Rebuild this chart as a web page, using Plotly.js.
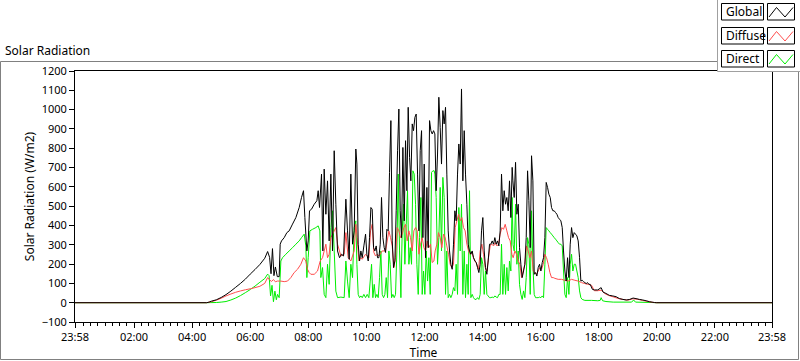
<!DOCTYPE html>
<html><head><meta charset="utf-8">
<script src="https://cdn.plot.ly/plotly-3.0.1.min.js"></script>
<style>html,body{margin:0;padding:0;background:#fff;} #chart{width:800px;height:361px;}</style>
</head><body><div id="chart"></div>
<script>
// time in minutes after midnight, value in W/m2
const tickMinutes = [-2,120,240,360,480,600,720,840,960,1080,1200,1320,1438];
const tickLabels = ["23:58","02:00","04:00","06:00","08:00","10:00","12:00","14:00","16:00","18:00","20:00","22:00","23:58"];
const seriesNames = ["Global","Diffuse","Direct"];

const globalSeries = [[-2,0],[270,0],[275,3],[280,8],[290,15],[300,27],[310,42],[320,60],[330,80],[340,100],[350,122],[360,148],[370,172],[380,198],[390,230],[396,265],[400,235],[403,150],[406,280],[409,140],[412,185],[416,135],[419.8,135],[421.9,303],[424.7,320],[430.2,337],[435.7,363],[440.5,372],[447.4,407],[454.3,441],[461.2,493],[466,545],[470.1,580],[472.9,441],[477,268],[479.8,320],[482.5,476],[486.6,484],[492.2,510],[497.7,528],[500.4,580],[503.2,493],[507.3,666],[510.1,268],[512.8,692],[516.3,458],[519.7,631],[523.1,320],[526.6,666],[530,268],[533.5,787],[536.9,510],[540.4,268],[544.5,233],[548.6,251],[552.8,242],[557.6,536],[561,372],[564.5,225],[567.9,666],[571.4,303],[574.8,372],[578.2,796],[580.4,718],[583.1,303],[585.9,216],[588.6,268],[591.4,233],[594.8,294],[598.3,355],[601,251],[603.8,216],[606.5,337],[609.3,493],[612,484],[614.8,285],[617.5,268],[620.3,294],[623,233],[625.8,233],[628.6,303],[631.3,545],[634.1,337],[636.8,285],[639.6,260],[642.3,380],[645.1,372],[647.8,675],[650.6,943],[653.4,320],[656.1,182],[658.9,216],[661.6,476],[664.4,787],[667.1,1003],[669.9,476],[672.6,337],[675.4,804],[678.2,424],[680.9,839],[683.7,580],[686.4,1012],[689.2,753],[691.9,631],[694.7,926],[697.4,891],[700.2,960],[702.9,977],[705.7,666],[708.5,372],[711.2,787],[714,891],[716.7,337],[719.5,718],[722.2,233],[725,597],[727.7,285],[730.5,943],[733.2,891],[736,874],[738.8,891],[741.5,874],[744.2,580],[747,770],[749.7,1064],[752.5,908],[755.2,718],[758,995],[760.7,926],[763.5,1012],[766.2,666],[769,372],[771.8,268],[774.5,199],[777.3,173],[780,303],[782.8,476],[785.5,424],[788.3,666],[791,822],[793.8,718],[796.5,1107],[799.3,631],[802.1,891],[804.8,666],[807.6,510],[810.3,303],[813.1,268],[815.8,251],[818.6,268],[821.3,233],[824.1,216],[826.9,208],[829.6,182],[832.4,156],[835.1,199],[837.9,372],[840.6,441],[843.4,268],[846.1,182],[848.9,147],[851.6,216],[854.4,303],[857.2,303],[859.9,320],[862.7,303],[865.4,337],[868.2,303],[870.9,320],[873.7,294],[876.4,372],[879.2,666],[881.9,476],[884.7,580],[887.5,510],[890.2,545],[893,476],[895.7,631],[898.5,441],[901.2,701],[902.7,631],[905.4,545],[908.2,727],[910.9,458],[913.7,510],[916.4,285],[919.2,199],[921.9,130],[924.7,164],[927.4,199],[930.2,337],[933,683],[935.7,528],[938.5,285],[941.2,761],[944,631],[946.7,147],[949.5,156],[952.2,138],[955,182],[957.7,199],[960.5,164],[963.3,208],[966,233],[968.8,337],[971.5,623],[974.3,597],[977,562],[979.8,545],[982.5,493],[985.3,476],[988,476],[990.8,467],[993.6,458],[996.3,441],[999.1,432],[1001.8,424],[1004.6,389],[1007.3,268],[1010.1,164],[1012.8,112],[1015.6,233],[1018.4,130],[1021.1,303],[1023.9,389],[1026.6,337],[1029.4,363],[1032.1,355],[1034.9,346],[1037.6,320],[1040.4,233],[1043.1,112],[1045.9,116],[1048.7,109],[1051.4,104],[1054.2,99],[1056.9,104],[1059.7,95],[1062.4,95],[1067,69],[1071,66],[1078,66],[1085,78],[1089,55],[1095,48],[1102,38],[1109,35],[1116,31],[1123,21],[1130,17],[1137,14],[1144,17],[1151,24],[1157,21],[1164,17],[1171,14],[1178,10],[1185,5],[1195,1],[1200,0],[1438,0]];

const diffuseSeries = [[-2,0],[270,0],[280,5],[290,13],[300,23],[310,35],[320,45],[330,54],[340,61],[350,67],[360,72],[370,78],[380,85],[390,100],[396,130],[400,118],[404,110],[408,120],[412,108],[416,112],[423.3,112],[430.2,109],[437.1,112],[443.9,130],[450.8,156],[457.7,173],[464.6,199],[470.1,233],[474.9,216],[478.4,173],[481.8,156],[485.3,147],[492.2,147],[499,164],[504.6,216],[509.4,233],[512.8,268],[516.3,303],[519.7,233],[523.1,251],[526.6,337],[533.5,372],[536.9,389],[540.4,303],[547.3,242],[554.1,251],[557.6,363],[562.4,233],[567.9,216],[574.8,268],[578.2,406],[581,337],[584.5,216],[587.9,233],[591.4,225],[598.3,251],[605.1,233],[608.6,372],[612,406],[615.5,260],[618.9,242],[622.4,251],[625.8,242],[632.7,268],[639.6,268],[646.5,372],[649.9,337],[653.4,294],[656.8,182],[660.2,233],[663.7,389],[667.1,372],[670.6,337],[674,355],[677.5,389],[680.9,406],[684.3,320],[687.8,372],[691.2,337],[694.7,268],[698.1,372],[701.6,389],[705,372],[708.5,251],[711.9,303],[715.3,337],[718.8,285],[722.2,268],[725.7,320],[729.1,285],[732.6,303],[736,208],[739.5,216],[742.1,268],[745.6,303],[749,363],[752.5,337],[755.9,285],[759.4,355],[762.8,337],[766.2,294],[769.7,251],[773.1,199],[776.6,182],[780,199],[783.5,389],[786.9,424],[790.4,458],[793.8,424],[797.2,441],[800.7,389],[804.1,372],[807.6,303],[811,268],[814.5,251],[817.9,260],[821.3,233],[824.8,216],[828.2,199],[831.7,173],[835.1,268],[838.6,303],[842,251],[845.5,182],[848.9,164],[852.3,233],[855.8,294],[859.2,303],[862.7,294],[866.1,311],[869.6,294],[873,303],[876.4,355],[879.9,389],[883.3,380],[886.8,406],[890.2,372],[893.7,337],[897.1,320],[900.5,251],[903.3,233],[906.8,268],[910.2,251],[913.7,216],[917.1,199],[920.6,130],[924,164],[927.4,199],[930.9,294],[934.3,268],[937.8,233],[941.2,268],[944.7,164],[948.1,156],[951.6,147],[955,164],[958.4,182],[961.9,173],[965.3,199],[968.8,251],[972.2,233],[975.7,199],[979.1,156],[982.5,130],[986,130],[989.4,126],[996.3,121],[1003.2,121],[1010.1,116],[1017,112],[1023.9,121],[1030.8,116],[1037.6,112],[1044.5,104],[1051.4,99],[1058.3,95],[1065.2,90],[1071,62],[1078,62],[1085,65],[1092,48],[1100,38],[1110,30],[1120,22],[1130,17],[1140,13],[1150,20],[1160,18],[1170,12],[1180,7],[1190,2],[1198,0],[1438,0]];

const directSeries = [[-2,0],[270,0],[290,1],[300,3],[310,6],[320,14],[330,24],[340,37],[350,52],[360,68],[370,86],[380,106],[390,125],[396,148],[399,140],[402,35],[405,90],[408,5],[411,60],[414,15],[416.4,43],[419.8,26],[423.3,216],[426.7,233],[433.6,251],[440.5,268],[447.4,285],[454.3,303],[461.2,320],[466,337],[471.5,355],[474.9,294],[477,130],[479.8,233],[483.2,372],[488.7,380],[495.6,389],[500.4,398],[503.9,372],[505.9,130],[509.4,182],[512.8,43],[516.3,26],[519.7,199],[523.1,95],[526.6,389],[530,476],[533.5,268],[536.9,60],[540.4,26],[547.3,29],[554.1,26],[557.6,216],[561,112],[564.5,26],[567.9,199],[571.4,130],[574.8,389],[578.2,424],[580.4,199],[583.1,43],[585.9,26],[588.6,35],[591.4,26],[594.8,43],[598.3,26],[601.7,43],[605.1,26],[607.9,112],[610.7,199],[613.4,26],[616.2,95],[618.9,26],[621.7,43],[624.4,26],[627.2,130],[629.9,268],[632.7,43],[635.5,26],[638.2,43],[641,130],[643.7,26],[646.5,268],[649.2,199],[652,26],[654.7,43],[657.5,26],[660.2,43],[663,268],[665.8,666],[668.5,268],[671.3,26],[674,372],[676.8,510],[679.5,199],[682.3,406],[685,580],[687.8,199],[690.5,285],[693.3,199],[696.1,683],[698.8,666],[701.6,510],[704.3,199],[707.1,43],[709.8,337],[712.6,545],[715.3,43],[718.1,164],[720.8,43],[723.6,268],[726.4,112],[729.1,233],[731.9,43],[734.6,675],[737.4,683],[740.1,683],[741.5,666],[744.2,545],[747,199],[749.7,337],[752.5,597],[755.2,268],[758,649],[760.7,545],[763.5,43],[766.2,268],[769,26],[771.8,43],[774.5,26],[777.3,43],[780,78],[782.8,61],[785.5,199],[788.3,43],[791,493],[793.8,268],[796.5,510],[799.3,43],[802.1,268],[804.8,26],[807.6,199],[810.3,43],[813.1,580],[815.8,26],[818.6,43],[821.3,26],[824.1,17],[826.9,17],[829.6,26],[832.4,17],[835.1,43],[837.9,233],[840.6,199],[843.4,43],[846.1,164],[848.9,43],[851.6,35],[854.4,26],[857.2,26],[859.9,29],[862.7,26],[865.4,35],[868.2,29],[870.9,26],[873.7,43],[876.4,43],[879.2,303],[881.9,43],[884.7,199],[887.5,43],[890.2,182],[893,61],[895.7,216],[898.5,164],[901.2,545],[903,300],[905.4,268],[908.2,510],[910.9,199],[913.7,268],[916.4,95],[919.2,43],[921.9,17],[924.7,61],[927.4,26],[930.2,130],[933,337],[935.7,303],[938.5,43],[941.2,476],[944,199],[946.7,43],[949.5,26],[952.2,26],[955,26],[957.7,29],[960.5,26],[963.3,35],[966,26],[968.8,199],[971.5,389],[974.3,380],[977,372],[979.8,363],[982.5,355],[985.3,346],[988,337],[990.8,329],[993.6,320],[996.3,311],[999.1,303],[1001.8,303],[1004.6,294],[1007.3,164],[1010.1,43],[1012.8,26],[1015.6,130],[1018.4,43],[1021.1,199],[1023.9,251],[1026.6,164],[1029.4,199],[1032.1,199],[1034.9,164],[1037.6,130],[1040.4,61],[1043.1,26],[1045.9,17],[1051.4,12],[1065.2,12],[1078,10],[1083,12],[1085,26],[1088,10],[1095,6],[1110,3],[1148,3],[1152,14],[1156,3],[1190,1],[1198,0],[1438,0]];

const colors = ["#000000","#ff4d4d","#00ee00"];
const allSeries = [globalSeries, diffuseSeries, directSeries];

const traces = allSeries.map((s, i) => ({
  type: "scatter", mode: "lines", name: seriesNames[i],
  x: s.map(p => p[0] / 60), y: s.map(p => p[1]),
  line: {color: colors[i], width: 1, simplify: false},
  hoverinfo: "skip"
})).reverse(); // Global drawn last, on top

// pixel -> paper helpers for decorations
const L = 75, R = 772, T = 71, B = 322;
const px = x => (x - L) / (R - L);
const py = y => (B - y) / (B - T);

const shapes = [
  {type:"rect", xref:"paper", yref:"paper", x0:px(0.5), x1:px(798.5), y0:py(61.5), y1:py(359.5), line:{color:"#808080", width:1}},
  {type:"rect", xref:"paper", yref:"paper", x0:px(717.5), x1:px(801), y0:py(-1), y1:py(71.5), fillcolor:"#ffffff", line:{color:"#a0a0a0", width:1}}
];
const annotations = [];
const rowTops = [3.5, 27.5, 50.5];
seriesNames.forEach((n, i) => {
  const t = rowTops[i], b = t + 16.5;
  shapes.push({type:"rect", xref:"paper", yref:"paper", x0:px(721.5), x1:px(763.5), y0:py(b), y1:py(t), fillcolor:"#ffffff", line:{color:"#000", width:1}});
  shapes.push({type:"rect", xref:"paper", yref:"paper", x0:px(767.5), x1:px(794.5), y0:py(b), y1:py(t), fillcolor:"#ffffff", line:{color:"#000", width:1}});
  const path = "M" + px(769) + "," + py(b - 3) + " L" + px(776.5) + "," + py(t + 4) + " L" + px(785) + "," + py(b - 3) + " L" + px(793) + "," + py(t + 4);
  shapes.push({type:"path", xref:"paper", yref:"paper", path: path, line:{color: colors[i], width:1}});
  annotations.push({xref:"paper", yref:"paper", x:px(723.5), y:py((t + b) / 2), xanchor:"left", yanchor:"middle", text:n, showarrow:false, font:{family:"Noto Sans, sans-serif", size:12, color:"#000"}});
});

const layout = {
  width: 800, height: 361,
  margin: {l: L, r: 800 - R, t: T, b: 361 - B, pad: 0},
  paper_bgcolor: "#ffffff", plot_bgcolor: "#ffffff",
  showlegend: false,
  font: {family: "Noto Sans, sans-serif", size: 11, color: "#000"},
  title: {text: "Solar Radiation", font: {size: 12, color: "#000"}, x: 5/800, xref: "container", xanchor: "left", y: 1 - 51/361, yref: "container", yanchor: "middle"},
  xaxis: {
    range: [-2/60, 1438/60], tickmode: "array",
    tickvals: tickMinutes.map(m => m / 60), ticktext: tickLabels,
    ticks: "outside", ticklen: 5, tickcolor: "#000", tickwidth: 1,
    minor: {tickmode: "linear", tick0: 0, dtick: 0.25, ticks: "outside", ticklen: 3, tickcolor: "#000", showgrid: false},
    showline: true, linecolor: "#000", linewidth: 1, mirror: true,
    showgrid: false, zeroline: false, fixedrange: true,
    tickfont: {size: 11},
    title: {text: "Time", font: {size: 12}, standoff: 2}
  },
  yaxis: {
    range: [-100, 1200], tickmode: "linear", tick0: 0, dtick: 100,
    ticks: "outside", ticklen: 5, tickcolor: "#000", tickwidth: 1,
    showline: true, linecolor: "#000", linewidth: 1, mirror: true,
    showgrid: false, zeroline: false, fixedrange: true,
    tickfont: {size: 11},
    title: {text: "Solar Radiation (W/m2)", font: {size: 12}, standoff: 4}
  },
  shapes: shapes,
  annotations: annotations
};

Plotly.newPlot("chart", traces, layout, {staticPlot: true, displayModeBar: false});
</script>
</body></html>
